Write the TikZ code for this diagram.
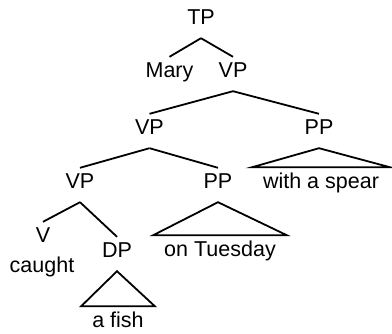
\documentclass[tikz,border=0pt]{standalone}
\usepackage{fontspec}
\setmainfont{Liberation Sans}
\tikzset{
  cat/.style={inner sep=0pt, text height=21pt, text depth=13pt, anchor=base},
  roof/.style={inner xsep=11pt, inner ysep=0pt, text height=21.5pt, text depth=5pt, anchor=base},
  word/.style={inner sep=0pt, anchor=base},
  branch/.style={line width=1.8pt}
}
\begin{document}
\begin{tikzpicture}[x=1pt, y=-1pt, font=\fontsize{21.5}{25}\selectfont]
  \useasboundingbox (0,0) rectangle (392,334);

  % Category labels
  \node[cat] (tp) at (201,25) {TP};
  \node[cat] (mary) at (169.5,78) {Mary};
  \node[cat] (vpa) at (233,78) {VP};
  \node[cat] (vpb) at (149.5,135) {VP};
  \node[cat] (ppa) at (319,135) {PP};
  \node[cat] (vpc) at (80,189) {VP};
  \node[cat] (ppb) at (218,189) {PP};
  \node[cat] (v) at (43,243) {V};
  \node[cat] (dp) at (117,258) {DP};

  % Words
  \node[word] (caught) at (42,273) {caught};
  \node[roof] (spear) at (321,189) {with a spear};
  \node[roof] (tuesday) at (220,257) {on Tuesday};
  \node[roof] (fish) at (118,328) {a fish};

  % Branches
  \foreach \a/\b in {tp/mary, tp/vpa, vpa/vpb, vpa/ppa, vpb/vpc, vpb/ppb, vpc/v, vpc/dp} {
    \draw[branch] (\a.south) -- (\b.north);
  }

  % Roofs
  \foreach \a/\b in {ppa/spear, ppb/tuesday, dp/fish} {
    \draw[branch] (\a.south) -- (\b.north east) -- (\b.north west) -- cycle;
  }
\end{tikzpicture}
\end{document}
